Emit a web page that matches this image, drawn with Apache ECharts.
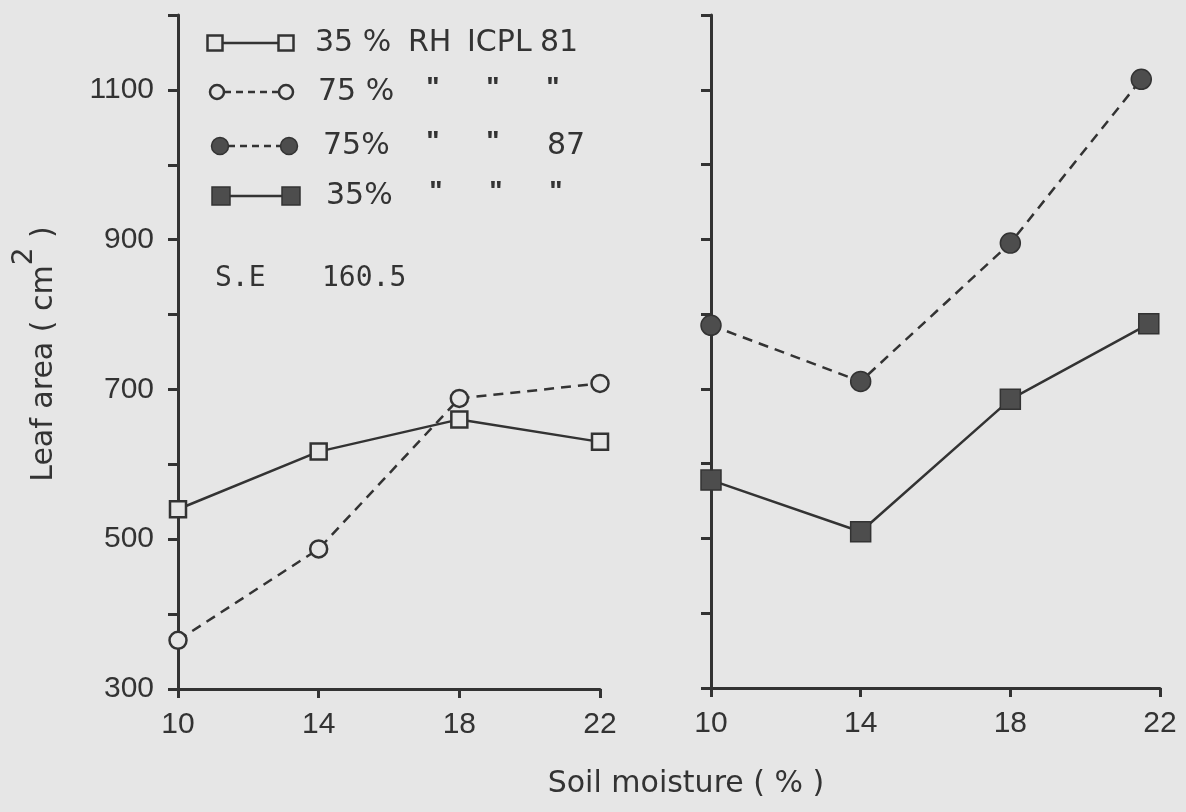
<!DOCTYPE html>
<html><head><meta charset="utf-8">
<script src="https://cdn.jsdelivr.net/npm/echarts@6/dist/echarts.min.js"></script>
<style>html,body{margin:0;padding:0;background:#e6e6e6}#c{width:1186px;height:812px}</style>
</head><body><div id="c"></div>
<script>
// ---- data ----
const xTicks = [10, 14, 18, 22];
const yTickLabels = [300, 500, 700, 900, 1100];
// Left panel: ICPL 81
const x81 = [10, 14, 18, 22];
const rh35_icpl81 = [540, 617, 660, 630];
const rh75_icpl81 = [365, 487, 688, 708];
// Right panel: ICPL 87
const x87_rh75 = [10, 14, 18, 21.5];
const rh75_icpl87 = [785, 710, 895, 1114];
const x87_rh35 = [10, 14, 18, 21.7];
const rh35_icpl87 = [578, 509, 686, 787];
const legendRows = [
  ['35 %', 'RH', 'ICPL', '81'],
  ['75 %', '"', '"', '"'],
  ['75%', '"', '"', '87'],
  ['35%', '"', '"', '"']
];
const seLabel = 'S.E';
const seValue = '160.5';
const xTitle = 'Soil moisture ( % )';

// ---- style ----
const BG = '#e6e6e6';
const INK = '#333333';
const FILL = '#4d4d4d';
const tickFont = 'Liberation Sans';
const wordFont = 'DejaVu Sans';
const pairs = (xs, ys) => xs.map((x, i) => [x, ys[i]]);

const chart = echarts.init(document.getElementById('c'), null, {renderer: 'canvas'});

function xAxisCfg(idx) {
  return {
    type: 'value', gridIndex: idx, min: 10, max: 22, interval: 4,
    axisLine: {show: true, onZero: false, lineStyle: {color: INK, width: 3}},
    axisTick: {show: true, length: 9, lineStyle: {color: INK, width: 3}},
    axisLabel: {show: true, margin: 21, color: INK, fontSize: 30, fontFamily: tickFont,
      formatter: v => xTicks.includes(v) ? String(v) : ''},
    splitLine: {show: false}
  };
}
function yAxisCfg(idx, showLabels) {
  return {
    type: 'value', gridIndex: idx, min: 300, max: 1200, interval: 100,
    axisLine: {show: true, onZero: false, lineStyle: {color: INK, width: 3}},
    axisTick: {show: true, length: 10, lineStyle: {color: INK, width: 3}},
    axisLabel: {show: showLabels, margin: 24, color: INK, fontSize: 30, fontFamily: tickFont,
      formatter: v => yTickLabels.includes(v) ? String(v) : ''},
    splitLine: {show: false}
  };
}

const solid = {color: INK, width: 2.5, type: 'solid'};
const dashed = {color: INK, width: 2.5, type: [10, 7]};

// legend graphics
const rowY = [43, 92, 146, 196];
const g = [];
function openSq(cx, cy, s) { return {type: 'rect', shape: {x: cx - s / 2, y: cy - s / 2, width: s, height: s}, style: {fill: BG, stroke: INK, lineWidth: 2.5}, z: 10}; }
function fillSq(cx, cy, s) { return {type: 'rect', shape: {x: cx - s / 2, y: cy - s / 2, width: s, height: s}, style: {fill: FILL, stroke: INK, lineWidth: 1.5}, z: 10}; }
function openCi(cx, cy, r) { return {type: 'circle', shape: {cx: cx, cy: cy, r: r}, style: {fill: BG, stroke: INK, lineWidth: 2.5}, z: 10}; }
function fillCi(cx, cy, r) { return {type: 'circle', shape: {cx: cx, cy: cy, r: r}, style: {fill: FILL, stroke: INK, lineWidth: 1.5}, z: 10}; }
function seg(x1, x2, y, dash) { return {type: 'line', shape: {x1: x1, y1: y, x2: x2, y2: y}, style: {stroke: INK, lineWidth: 2.5, lineDash: dash || null}, z: 9}; }
function txt(x, y, t, font, size, align, weight) {
  return {type: 'text', x: x, y: y, z: 10, style: {text: t, fill: INK, fontFamily: font, fontSize: size,
    fontWeight: weight || 'normal',
    align: align || 'left', verticalAlign: 'middle', textAlign: align || 'left', textVerticalAlign: 'middle'}};
}
// row 1: open squares solid
g.push(seg(222, 279, rowY[0]), openSq(215, rowY[0], 15), openSq(286, rowY[0], 15));
// row 2: open circles dashed
g.push(seg(224, 279, rowY[1], [7, 5]), openCi(217, rowY[1], 7), openCi(286, rowY[1], 7));
// row 3: filled circles dashed
g.push(seg(228, 281, rowY[2], [7, 5]), fillCi(220, rowY[2], 8.5), fillCi(289, rowY[2], 8.5));
// row 4: filled squares solid
g.push(seg(229, 283, rowY[3]), fillSq(221, rowY[3], 18), fillSq(291, rowY[3], 18));

const colX = [
  [315, 408, 467, 540],
  [318, 433, 493, 553],
  [323, 433, 493, 547],
  [326, 436, 496, 556]
];
legendRows.forEach((row, r) => {
  row.forEach((t, c) => {
    if (t === '"') g.push(txt(colX[r][c], rowY[r] - 4, t, 'Liberation Sans', 28, 'center', 'bold'));
    else g.push(txt(colX[r][c], rowY[r], t, wordFont, 30, 'left'));
  });
});
g.push(txt(215, 279, seLabel, 'DejaVu Sans Mono', 28, 'left'));
g.push(txt(322, 279, seValue, 'DejaVu Sans Mono', 28, 'left'));
// axis titles
g.push(txt(686, 784, xTitle, wordFont, 30, 'center'));
g.push({type: 'text', x: 44, y: 354, rotation: Math.PI / 2, z: 10,
  style: {text: '{n|Leaf area ( cm}{s|2}{n| )}', fill: INK, align: 'center', verticalAlign: 'middle',
    textAlign: 'center', textVerticalAlign: 'middle',
    rich: {
      n: {fontFamily: wordFont, fontSize: 30, lineHeight: 66, color: INK},
      s: {fontFamily: wordFont, fontSize: 28, lineHeight: 32, verticalAlign: 'top', color: INK}
    }}});

chart.setOption({
  animation: false,
  backgroundColor: BG,
  grid: [
    {left: 178, top: 15, width: 422, height: 674},
    {left: 711, top: 15, width: 449, height: 673}
  ],
  xAxis: [xAxisCfg(0), xAxisCfg(1)],
  yAxis: [yAxisCfg(0, true), yAxisCfg(1, false)],
  series: [
    {name: '35 % RH ICPL 81', type: 'line', xAxisIndex: 0, yAxisIndex: 0, data: pairs(x81, rh35_icpl81),
      symbol: 'rect', symbolSize: 16, lineStyle: solid, itemStyle: {color: BG, borderColor: INK, borderWidth: 2.5}, z: 3},
    {name: '75 % RH ICPL 81', type: 'line', xAxisIndex: 0, yAxisIndex: 0, data: pairs(x81, rh75_icpl81),
      symbol: 'circle', symbolSize: 17, lineStyle: dashed, itemStyle: {color: BG, borderColor: INK, borderWidth: 2.5}, z: 4},
    {name: '75% RH ICPL 87', type: 'line', xAxisIndex: 1, yAxisIndex: 1, data: pairs(x87_rh75, rh75_icpl87),
      symbol: 'circle', symbolSize: 20, lineStyle: dashed, itemStyle: {color: FILL, borderColor: INK, borderWidth: 1.5}, z: 3},
    {name: '35% RH ICPL 87', type: 'line', xAxisIndex: 1, yAxisIndex: 1, data: pairs(x87_rh35, rh35_icpl87),
      symbol: 'rect', symbolSize: 20, lineStyle: solid, itemStyle: {color: FILL, borderColor: INK, borderWidth: 1.5}, z: 3}
  ],
  graphic: g
});
</script>
</body></html>
